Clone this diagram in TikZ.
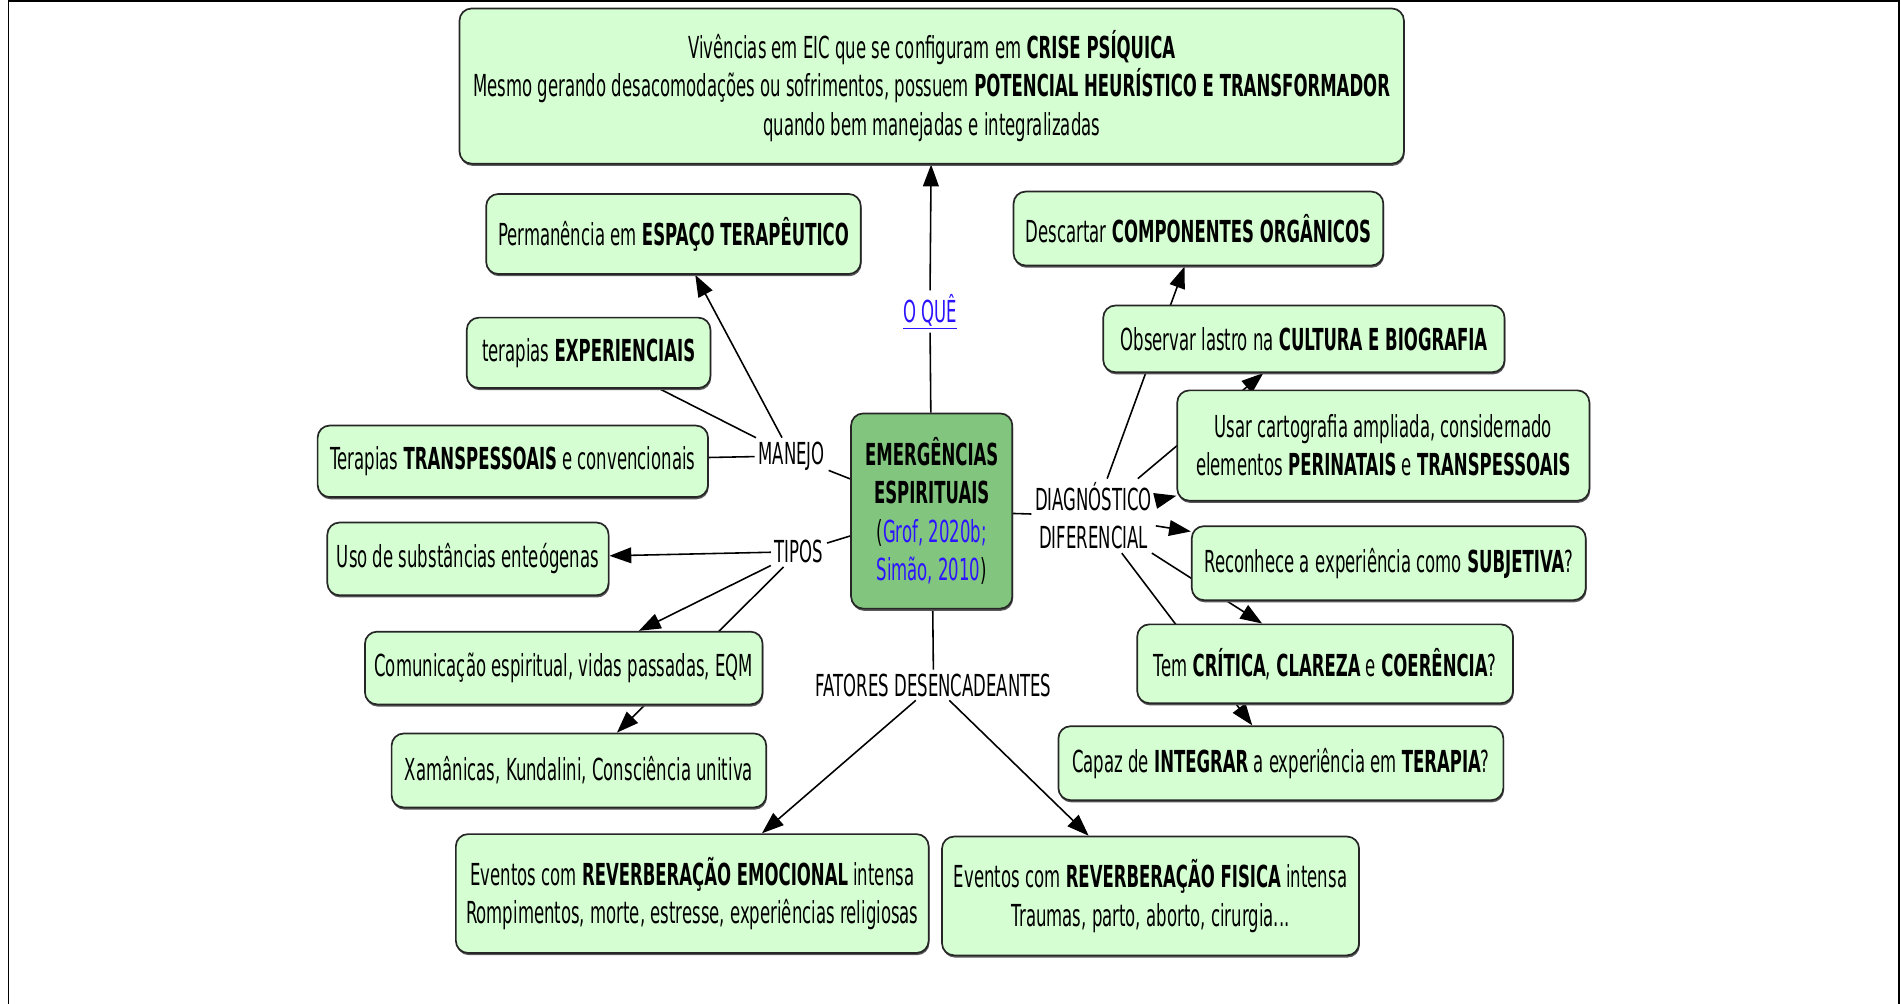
\documentclass[tikz,border=0pt]{standalone}
\usepackage{fontspec}
\setmainfont{DejaVu Sans}[FakeStretch=0.545]
\usetikzlibrary{arrows.meta,shadows,backgrounds}
\definecolor{boxgreen}{RGB}{213,255,210}
\definecolor{centergreen}{RGB}{130,197,127}
\definecolor{linkblue}{RGB}{45,20,255}
\begin{document}
\begin{tikzpicture}[x=1pt,y=-1pt,
  txt/.style={font=\fontsize{25}{31.5}\selectfont},
  box/.style={txt, draw=black!85, line width=1.4pt, rounded corners=10pt, fill=boxgreen,
    align=center, inner sep=0pt,
    drop shadow={shadow xshift=0.6pt, shadow yshift=-1.8pt, fill=black!65, opacity=1}},
  lbl/.style={txt, inner xsep=3pt, inner ysep=3pt, align=center},
  con/.style={line width=1.3pt, draw=black},
  arr/.style={con, -{Triangle[length=18pt,width=13pt]}}]
\useasboundingbox (0,0) rectangle (1568,828);
\draw[line width=1.5pt] (7,828) -- (7,1) -- (1566,1) -- (1566,828);

% concepts
\node[box, minimum width=779pt, minimum height=128pt] (top) at (768.5,71)
  {Vivências em EIC que se configuram em \textbf{CRISE PSÍQUICA}\\
   Mesmo gerando desacomodações ou sofrimentos, possuem \textbf{POTENCIAL HEURÍSTICO E TRANSFORMADOR}\\
   quando bem manejadas e integralizadas};
\node[box, fill=centergreen, minimum width=133pt, minimum height=161pt] (ee) at (768.5,421.5)
  {\textbf{EMERGÊNCIAS}\\\textbf{ESPIRITUAIS}\\(\textcolor{linkblue}{Grof, 2020b;}\\\textcolor{linkblue}{Simão, 2010})};

\node[box, minimum width=309pt, minimum height=66pt] (perm) at (555.5,193)
  {Permanência em \textbf{ESPAÇO TERAPÊUTICO}};
\node[box, minimum width=201pt, minimum height=58pt] (exper) at (485.5,291)
  {terapias \textbf{EXPERIENCIAIS}};
\node[box, minimum width=322pt, minimum height=59pt] (transp) at (423,380.5)
  {Terapias \textbf{TRANSPESSOAIS} e convencionais};
\node[box, minimum width=232pt, minimum height=60pt] (uso) at (386,461)
  {Uso de substâncias enteógenas};
\node[box, minimum width=328pt, minimum height=60pt] (comun) at (465,551)
  {Comunicação espiritual, vidas passadas, EQM};
\node[box, minimum width=309pt, minimum height=61pt] (xam) at (477.5,635.5)
  {Xamânicas, Kundalini, Consciência unitiva};
\node[box, minimum width=390pt, minimum height=98pt] (emoc) at (571,737)
  {Eventos com \textbf{REVERBERAÇÃO EMOCIONAL} intensa\\Rompimentos, morte, estresse, experiências religiosas};
\node[box, minimum width=344pt, minimum height=98pt] (fis) at (949,739)
  {Eventos com \textbf{REVERBERAÇÃO FISICA} intensa\\Traumas, parto, aborto, cirurgia...};

\node[box, minimum width=305pt, minimum height=61pt] (desc) at (988.5,188.5)
  {Descartar \textbf{COMPONENTES ORGÂNICOS}};
\node[box, minimum width=331pt, minimum height=55pt] (obs) at (1075.5,279.5)
  {Observar lastro na \textbf{CULTURA E BIOGRAFIA}};
\node[box, minimum width=340pt, minimum height=91pt] (usar) at (1141,367.5)
  {Usar cartografia ampliada, considernado\\elementos \textbf{PERINATAIS} e \textbf{TRANSPESSOAIS}};
\node[box, minimum width=325pt, minimum height=61pt] (recon) at (1145.5,464.5)
  {Reconhece a experiência como \textbf{SUBJETIVA}?};
\node[box, minimum width=310pt, minimum height=65pt] (tem) at (1093,547.5)
  {Tem \textbf{CRÍTICA}, \textbf{CLAREZA} e \textbf{COERÊNCIA}?};
\node[box, minimum width=367pt, minimum height=61pt] (capaz) at (1056.5,629.5)
  {Capaz de \textbf{INTEGRAR} a experiência em \textbf{TERAPIA}?};

% linking phrases
\node[lbl, text=linkblue] (oque) at (767,257) {\underline{O QUÊ}};
\node[lbl] (manejo) at (653,376) {MANEJO};
\node[lbl] (tipos) at (659,455) {TIPOS};
\node[lbl] (fatores) at (770,565) {FATORES DESENCADEANTES};
\node[lbl] (diag) at (902,425.5) {DIAGNÓSTICO\\DIFERENCIAL};

% connectors (behind the boxes)
\begin{scope}[on background layer]
\fill[white] (0,0) rectangle (1568,828);
\draw[con] (ee) -- (oque);
\draw[arr] (oque) -- (top);
\draw[con] (ee) -- (manejo);
\draw[arr] (manejo) -- (perm);
\draw[con] (manejo) -- (exper);
\draw[con] (manejo) -- (transp);
\draw[con] (ee) -- (tipos);
\draw[arr] (tipos) -- (uso);
\draw[arr] (tipos) -- (comun);
\draw[arr] (tipos) -- (xam);
\draw[con] (ee) -- (fatores);
\draw[arr] (fatores) -- (emoc);
\draw[arr] (fatores) -- (fis);
\draw[con] (ee) -- (diag);
\draw[arr] (diag) -- (desc);
\draw[arr] (diag) -- (obs);
\draw[arr] (diag) -- (usar);
\draw[arr] (diag) -- (recon);
\draw[arr] (diag) -- (tem);
\draw[arr] (diag) -- (capaz);
\end{scope}
\end{tikzpicture}
\end{document}
